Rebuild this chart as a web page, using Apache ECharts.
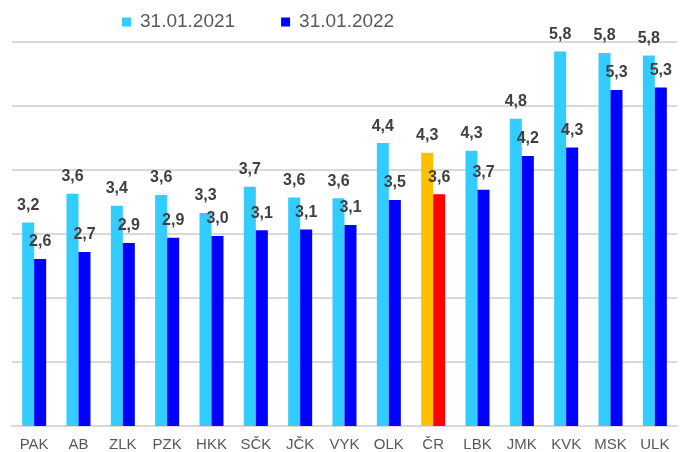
<!DOCTYPE html>
<html>
<head>
<meta charset="utf-8">
<script src="https://cdn.jsdelivr.net/npm/echarts@6/dist/echarts.min.js"></script>
<style>
  html, body {margin: 0; padding: 0; background: #fff;}
  #chart {width: 684px; height: 452px;}
</style>
</head>
<body>
<div id="chart"></div>
<script>
const categories = ['PAK', 'AB', 'ZLK', 'PZK', 'HKK', 'SČK', 'JČK', 'VYK', 'OLK', 'ČR', 'LBK', 'JMK', 'KVK', 'MSK', 'ULK'];
const values2021 = [3.18, 3.63, 3.44, 3.61, 3.33, 3.74, 3.57, 3.56, 4.42, 4.27, 4.30, 4.80, 5.85, 5.83, 5.79];
const values2022 = [2.61, 2.72, 2.86, 2.94, 2.97, 3.06, 3.07, 3.14, 3.53, 3.62, 3.69, 4.22, 4.35, 5.25, 5.29];
const seriesNames = ['31.01.2021', '31.01.2022'];
const highlight = 'ČR';

const font = '"Liberation Sans", Arial, sans-serif';

function fmt(p) {
  return p.value.toFixed(1).replace('.', ',');
}

function toData(values, accent) {
  return values.map((v, i) => categories[i] === highlight
    ? {value: v, itemStyle: {color: accent}}
    : v);
}

const labelStyle = {
  show: true,
  position: 'top',
  distance: 9,
  formatter: fmt,
  color: '#404040',
  fontFamily: font,
  fontWeight: 'bold',
  fontSize: 16,
};

const myChart = echarts.init(document.getElementById('chart'));
myChart.setOption({
  animation: false,
  grid: {left: 12, right: 7, top: 42, bottom: 26, containLabel: false},
  legend: {
    left: 117,
    top: 5,
    itemWidth: 9,
    itemHeight: 9,
    itemGap: 46,
    icon: 'rect',
    textStyle: {
      color: '#595959',
      fontFamily: font,
      fontSize: 19,
      lineHeight: 24,
      padding: [0, 0, 0, 4],
    },
    data: seriesNames,
  },
  xAxis: {
    type: 'category',
    data: categories,
    axisTick: {show: false},
    axisLine: {lineStyle: {color: '#d9d9d9', width: 2}},
    axisLabel: {
      color: '#595959',
      fontFamily: font,
      fontSize: 15,
      margin: 11,
    },
  },
  yAxis: {
    type: 'value',
    min: 0,
    max: 6,
    interval: 1,
    axisLabel: {show: false},
    axisLine: {show: false},
    axisTick: {show: false},
    splitLine: {lineStyle: {color: '#d9d9d9', width: 2}},
  },
  series: [{
    name: seriesNames[0],
    type: 'bar',
    barWidth: 12,
    barGap: '0%',
    itemStyle: {color: '#33CCFF'},
    label: labelStyle,
    data: toData(values2021, '#FFC000'),
  }, {
    name: seriesNames[1],
    type: 'bar',
    barWidth: 12,
    barGap: '0%',
    itemStyle: {color: '#0000FF'},
    label: labelStyle,
    data: toData(values2022, '#FF0000'),
  }],
});
</script>
</body>
</html>
